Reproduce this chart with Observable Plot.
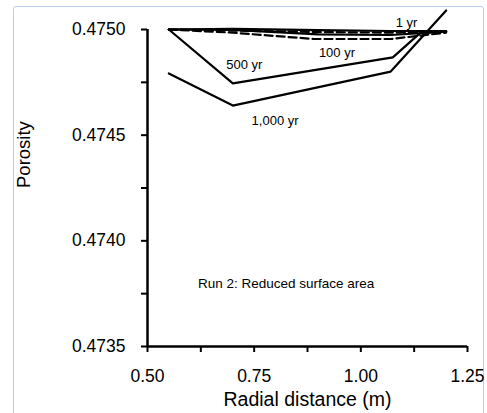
<!DOCTYPE html>
<html>
<head>
<meta charset="utf-8">
<script src="https://cdn.jsdelivr.net/npm/d3@7"></script>
<script src="https://cdn.jsdelivr.net/npm/@observablehq/plot@0.6"></script>
<style>
  html, body { margin: 0; padding: 0; background: #fff; }
  #wrap { position: relative; width: 487px; height: 413px; overflow: hidden; font-family: "Liberation Sans", Arial, sans-serif; }
  #frame { position: absolute; left: 13px; top: 6px; width: 471px; height: 420px; border: 1px solid #b9cde9; border-radius: 3px; box-sizing: border-box; }
  #chart { position: absolute; left: 0; top: 0; }
</style>
</head>
<body>
<div id="wrap"><div id="frame"></div><div id="chart"></div></div>
<script>
// Data
const seriesNames = ["1 yr", "10 yr", "50 yr", "100 yr", "500 yr", "1,000 yr"];
const x1 = [0.55, 0.70, 0.90, 1.07, 1.20];
const y1 = [0.475000, 0.475003, 0.474997, 0.474993, 0.474993];
const x10 = [0.55, 0.70, 0.90, 1.07, 1.20];
const y10 = [0.475000, 0.474995, 0.474988, 0.474985, 0.474990];
const x50 = [0.55, 0.70, 0.90, 1.07, 1.20];
const y50 = [0.475000, 0.474998, 0.474977, 0.474974, 0.474990];
const x100 = [0.55, 0.70, 0.89, 1.07, 1.20];
const y100 = [0.475000, 0.474985, 0.474955, 0.474955, 0.474985];
const x500 = [0.55, 0.70, 1.075, 1.14, 1.20];
const y500 = [0.475000, 0.474745, 0.474868, 0.474985, 0.474990];
const x1000 = [0.55, 0.70, 1.07, 1.20];
const y1000 = [0.474792, 0.474640, 0.474801, 0.475090];
const dashedSeries = ["10 yr", "100 yr"];

const xMajor = [0.50, 0.75, 1.00, 1.25];
const xMinor = [0.625, 0.875, 1.125];
const yMajor = [0.4735, 0.4740, 0.4745, 0.4750];
const yMinor = [0.47375, 0.47425, 0.47475];

const labelText = ["1 yr", "100 yr", "500 yr", "1,000 yr"];
const labelX = [1.107, 0.944, 0.727, 0.799];
const labelY = [0.475033, 0.474891, 0.474834, 0.474570];
const noteText = "Run 2: Reduced surface area";
const noteX = 0.825, noteY = 0.473798;

const xs = [x1, x10, x50, x100, x500, x1000];
const ys = [y1, y10, y50, y100, y500, y1000];
const rows = [];
seriesNames.forEach((s, i) => xs[i].forEach((x, j) => rows.push({series: s, x, y: ys[i][j]})));
const solid = rows.filter(d => !dashedSeries.includes(d.series));
const dashed = rows.filter(d => dashedSeries.includes(d.series));
const labels = labelText.map((t, i) => ({t, x: labelX[i], y: labelY[i]}));

const chart = Plot.plot({
  width: 487,
  height: 413,
  marginLeft: 147,
  marginRight: 20,
  marginTop: 29,
  marginBottom: 67,
  style: {fontFamily: "'Liberation Sans', Arial, sans-serif", background: "transparent", color: "#000"},
  x: {domain: [0.5, 1.25]},
  y: {domain: [0.4735, 0.4750]},
  marks: [
    Plot.axisY(yMajor, {tickSize: 6, tickPadding: 16, tickFormat: d3.format(".4f"), fontSize: 17.5, strokeWidth: 2, label: null}),
    Plot.axisY(yMinor, {tickSize: 6, tickFormat: () => "", strokeWidth: 2, label: null}),
    Plot.axisX(xMajor, {tickSize: 6, tickPadding: 17, tickFormat: d3.format(".2f"), fontSize: 17.5, strokeWidth: 2, label: null}),
    Plot.axisX(xMinor, {tickSize: 6, tickFormat: () => "", strokeWidth: 2, label: null}),
    Plot.ruleX([0.5], {strokeWidth: 2.5}),
    Plot.ruleY([0.4735], {strokeWidth: 2.5}),
    Plot.line(solid, {x: "x", y: "y", z: "series", stroke: "#000", strokeWidth: 2.2}),
    Plot.line(dashed, {x: "x", y: "y", z: "series", stroke: "#000", strokeWidth: 2.2, strokeDasharray: "8,4"}),
    Plot.text(labels, {x: "x", y: "y", text: "t", fontSize: 13, fill: "#000"}),
    Plot.text([noteText], {x: () => noteX, y: () => noteY, fontSize: 13.5, fill: "#000"}),
    Plot.text(["Radial distance (m)"], {frameAnchor: "bottom", dy: 59, fontSize: 19.5, fill: "#000"}),
    Plot.text(["Porosity"], {frameAnchor: "left", dx: -123, rotate: -90, fontSize: 18.5, fill: "#000"})
  ]
});
document.getElementById("chart").appendChild(chart);
</script>
</body>
</html>
